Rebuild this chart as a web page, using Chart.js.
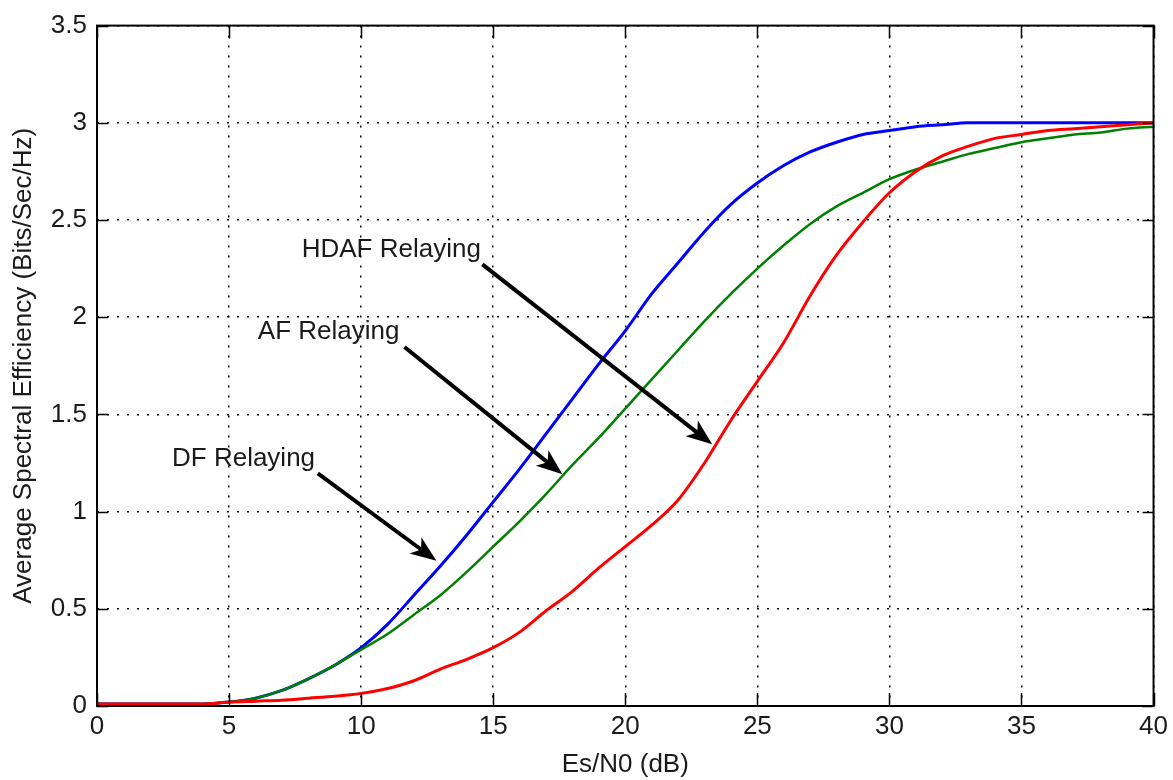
<!DOCTYPE html>
<html lang="en">
<head>
  <meta charset="UTF-8">
  <title>Average Spectral Efficiency vs Es/N0</title>
  <script src="https://cdn.jsdelivr.net/npm/chart.js@4.4.1/dist/chart.umd.min.js"></script>
  <style>
    html, body { margin: 0; padding: 0; background: #fff; }
  </style>
</head>
<body>
  <canvas id="chart" width="1173" height="780"></canvas>

  <script>
    // Es/N0 in dB, one point per dB
    const snrDb = [0, 1, 2, 3, 4, 5, 6, 7, 8, 9, 10, 11, 12, 13, 14, 15, 16, 17, 18, 19, 20,
                   21, 22, 23, 24, 25, 26, 27, 28, 29, 30, 31, 32, 33, 34, 35, 36, 37, 38, 39, 40];

    // average spectral efficiency (bits/sec/Hz)
    const dfRelaying = [0.01, 0.01, 0.01, 0.01, 0.01, 0.02, 0.04, 0.08, 0.14, 0.21, 0.30,
                        0.42, 0.57, 0.72, 0.88, 1.05, 1.22, 1.40, 1.58, 1.76, 1.93,
                        2.12, 2.28, 2.44, 2.58, 2.69, 2.78, 2.85, 2.90, 2.94, 2.96,
                        2.98, 2.99, 3.00, 3.00, 3.00, 3.00, 3.00, 3.00, 3.00, 3.00];
    const afRelaying = [0.01, 0.01, 0.01, 0.01, 0.01, 0.02, 0.04, 0.08, 0.14, 0.21, 0.29,
                        0.37, 0.47, 0.57, 0.69, 0.82, 0.95, 1.09, 1.24, 1.38, 1.53,
                        1.68, 1.83, 1.98, 2.12, 2.25, 2.37, 2.48, 2.57, 2.64, 2.71,
                        2.76, 2.80, 2.84, 2.87, 2.90, 2.92, 2.94, 2.95, 2.97, 2.98];
    const hdafRelaying = [0.01, 0.01, 0.01, 0.01, 0.01, 0.02, 0.025, 0.03, 0.04, 0.05, 0.065,
                          0.09, 0.13, 0.19, 0.24, 0.30, 0.38, 0.49, 0.59, 0.71, 0.82,
                          0.93, 1.06, 1.25, 1.47, 1.67, 1.87, 2.11, 2.32, 2.49, 2.64,
                          2.75, 2.83, 2.88, 2.92, 2.94, 2.96, 2.97, 2.98, 2.99, 3.00];

    const xTicks = [0, 5, 10, 15, 20, 25, 30, 35, 40];
    const yTicks = [0, 0.5, 1, 1.5, 2, 2.5, 3, 3.5];

    // text annotations with arrows (data units)
    const noteLabels = ['HDAF Relaying', 'AF Relaying', 'DF Relaying'];
    const noteTextAt = [[7.75, 2.308], [6.09, 1.888], [2.84, 1.233]];
    const noteArrowFrom = [[14.59, 2.272], [11.64, 1.847], [8.36, 1.197]];
    const noteArrowTo = [[23.29, 1.346], [17.62, 1.192], [12.85, 0.747]];

    const FONT = { family: 'Liberation Sans, Arial, sans-serif', size: 26 };
    const TEXT = '#1a1a1a';

    const toPoints = ys => snrDb.map((s, i) => ({ x: s, y: ys[i] }));

    // box around the plot with inward ticks on all four sides
    const frameBox = {
      id: 'frameBox',
      afterDatasetsDraw(chart) {
        const { ctx, chartArea: a, scales: { x, y } } = chart;
        ctx.save();
        ctx.strokeStyle = '#000';
        ctx.lineWidth = 1.5;
        ctx.beginPath();
        xTicks.forEach(v => {
          const px = Math.round(x.getPixelForValue(v)) + 0.5;
          ctx.moveTo(px, a.bottom); ctx.lineTo(px, a.bottom - 13);
          ctx.moveTo(px, a.top); ctx.lineTo(px, a.top + 13);
        });
        yTicks.forEach(v => {
          const py = Math.round(y.getPixelForValue(v)) + 0.5;
          ctx.moveTo(a.left, py); ctx.lineTo(a.left + 11, py);
          ctx.moveTo(a.right, py); ctx.lineTo(a.right - 11, py);
        });
        ctx.stroke();
        ctx.lineWidth = 2;
        ctx.strokeRect(a.left, a.top, a.right - a.left, a.bottom - a.top);
        ctx.restore();
      }
    };

    function drawArrow(ctx, x0, y0, x1, y1) {
      const ang = Math.atan2(y1 - y0, x1 - x0);
      const headLen = 26, headHalf = 10, notch = 7;
      const bx = x1 - headLen * Math.cos(ang), by = y1 - headLen * Math.sin(ang);
      ctx.beginPath();
      ctx.moveTo(x0, y0);
      ctx.lineTo(bx + notch * Math.cos(ang), by + notch * Math.sin(ang));
      ctx.stroke();
      const nx = -Math.sin(ang), ny = Math.cos(ang);
      ctx.beginPath();
      ctx.moveTo(x1, y1);
      ctx.lineTo(bx + headHalf * nx, by + headHalf * ny);
      ctx.lineTo(bx + notch * Math.cos(ang), by + notch * Math.sin(ang));
      ctx.lineTo(bx - headHalf * nx, by - headHalf * ny);
      ctx.closePath();
      ctx.fill();
    }

    const notes = {
      id: 'notes',
      afterDraw(chart) {
        const { ctx, scales: { x, y } } = chart;
        ctx.save();
        ctx.fillStyle = TEXT;
        ctx.font = FONT.size + 'px ' + FONT.family;
        ctx.textAlign = 'left';
        ctx.textBaseline = 'alphabetic';
        noteLabels.forEach((t, i) => {
          ctx.fillText(t, x.getPixelForValue(noteTextAt[i][0]), y.getPixelForValue(noteTextAt[i][1]));
        });
        ctx.strokeStyle = '#000';
        ctx.fillStyle = '#000';
        ctx.lineWidth = 4;
        ctx.lineCap = 'butt';
        noteLabels.forEach((t, i) => {
          drawArrow(ctx,
            x.getPixelForValue(noteArrowFrom[i][0]), y.getPixelForValue(noteArrowFrom[i][1]),
            x.getPixelForValue(noteArrowTo[i][0]), y.getPixelForValue(noteArrowTo[i][1]));
        });
        ctx.restore();
      }
    };

    const lineStyle = (color, width) => ({
      borderColor: color,
      backgroundColor: color,
      borderWidth: width,
      pointRadius: 0,
      fill: false,
      cubicInterpolationMode: 'monotone'
    });

    new Chart(document.getElementById('chart'), {
      type: 'line',
      data: {
        datasets: [
          { label: 'HDAF Relaying', data: toPoints(hdafRelaying), ...lineStyle('#ff0000', 3) },
          { label: 'AF Relaying', data: toPoints(afRelaying), ...lineStyle('#008000', 2.5) },
          { label: 'DF Relaying', data: toPoints(dfRelaying), ...lineStyle('#0000ff', 3) }
        ]
      },
      options: {
        responsive: false,
        animation: false,
        layout: { padding: { top: 22, right: 18, left: 0, bottom: 0 } },
        plugins: {
          legend: { display: false },
          tooltip: { enabled: false }
        },
        scales: {
          x: {
            type: 'linear',
            min: 0,
            max: 40,
            afterBuildTicks: s => { s.ticks = xTicks.map(v => ({ value: v })); },
            afterFit: s => { s.height = 74; },
            ticks: { font: FONT, color: TEXT, padding: 5, callback: v => String(v), maxRotation: 0 },
            grid: { color: '#000', lineWidth: 1.5, drawTicks: false },
            border: { display: false, dash: [2, 8] },
            title: { display: true, text: 'Es/N0 (dB)', font: FONT, color: TEXT, padding: { top: 0, bottom: 0 } }
          },
          y: {
            min: 0,
            max: 3.5,
            afterBuildTicks: s => { s.ticks = yTicks.map(v => ({ value: v })); },
            afterFit: s => { s.width = 97; },
            ticks: { font: FONT, color: TEXT, padding: 10, callback: v => String(v) },
            grid: { color: '#000', lineWidth: 1.5, drawTicks: false },
            border: { display: false, dash: [2, 8] },
            title: { display: true, text: 'Average Spectral Efficiency (Bits/Sec/Hz)', font: FONT, color: TEXT, padding: { top: 8, bottom: 0 } }
          }
        }
      },
      plugins: [frameBox, notes]
    });
  </script>
</body>
</html>
